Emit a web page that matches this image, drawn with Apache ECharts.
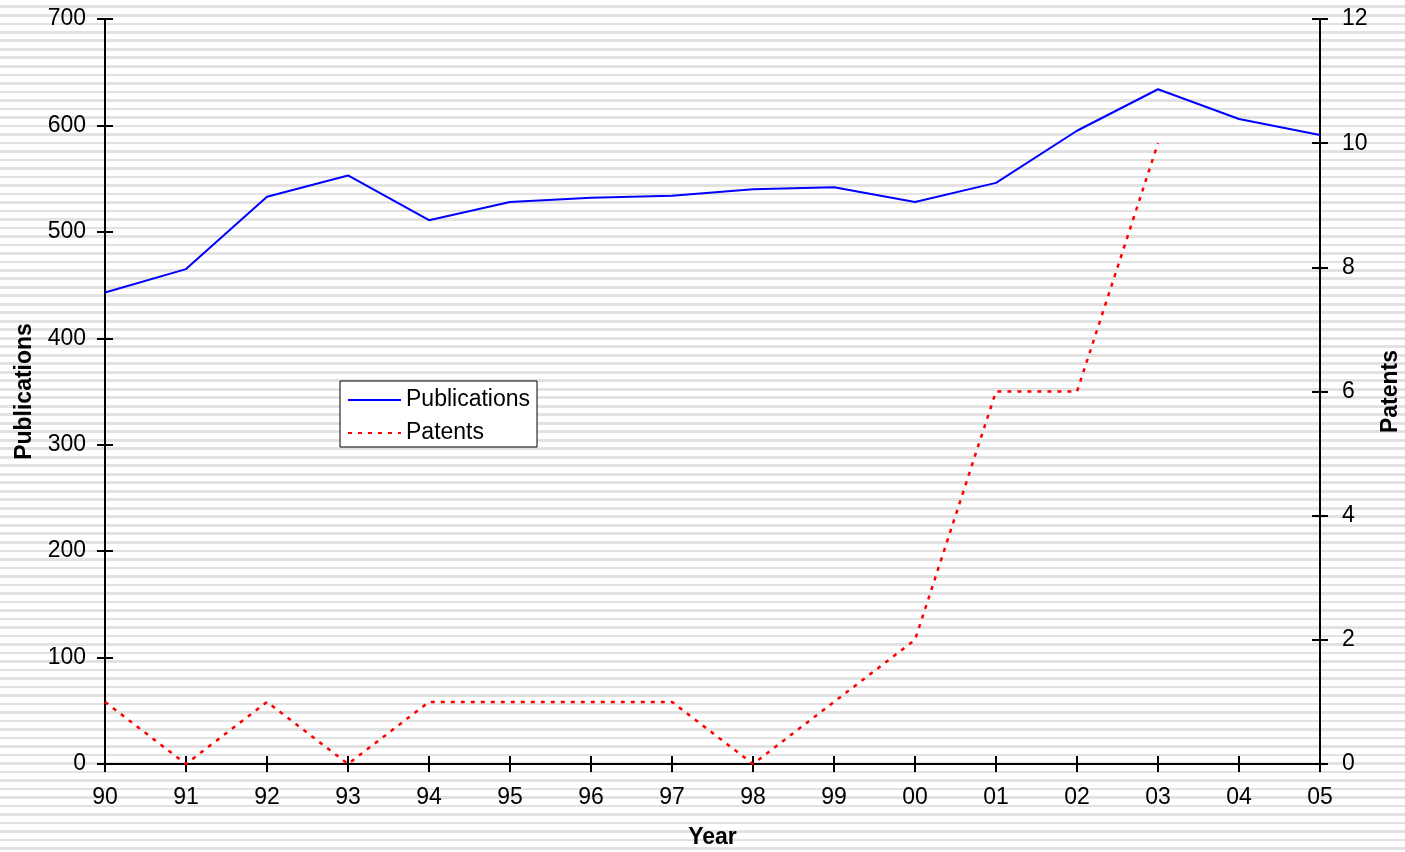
<!DOCTYPE html>
<html>
<head>
<meta charset="utf-8">
<script src="https://cdn.jsdelivr.net/npm/echarts@6/dist/echarts.min.js"></script>
<style>
html,body{margin:0;padding:0;}
#chart{width:1405px;height:852px;
background:repeating-linear-gradient(to bottom,#ffffff 0px,#ffffff 5.5px,#e2e2e2 5.5px,#e2e2e2 8.5px);}
</style>
</head>
<body>
<div id="chart"></div>
<script>
const years = ['90','91','92','93','94','95','96','97','98','99','00','01','02','03','04','05'];
const publications = [443,465,533,553,511,528,532,534,540,542,528,546,595,634,606,591];
const patents = [1,0,1,0,1,1,1,1,0,1,2,6,6,10,null,null];
const pubTicks = {min:0,max:700,interval:100};
const patTicks = {min:0,max:12,interval:2};

const font = 'Liberation Sans, Arial, sans-serif';
const FS = 23;
const axLine = {show:true,onZero:false,lineStyle:{color:'#000',width:2}};
const tick = (inside)=>({show:true,inside:inside,length:8,lineStyle:{color:'#000',width:2}});

const chart = echarts.init(document.getElementById('chart'));
chart.setOption({
  animation:false,
  grid:{left:105,right:85,top:19,bottom:88,containLabel:false,outerBoundsMode:'none'},
  legend:{
    orient:'vertical',left:340,top:381,
    backgroundColor:'#fff',borderColor:'#000',borderWidth:1,borderRadius:0,
    padding:[7,7,2,7],itemWidth:53,itemHeight:14,itemGap:9,
    itemStyle:{opacity:0},
    textStyle:{fontFamily:font,fontSize:FS,color:'#000',lineHeight:24},
    data:['Publications','Patents']
  },
  xAxis:[{
    type:'category',data:years,boundaryGap:false,position:'bottom',
    name:'Year',nameLocation:'middle',nameGap:62,
    nameTextStyle:{fontFamily:font,fontSize:FS,fontWeight:'bold',color:'#000'},
    axisLine:axLine,axisTick:tick(false),
    axisLabel:{fontFamily:font,fontSize:FS,color:'#000',margin:22},
    splitLine:{show:false}
  },{
    type:'category',data:years,boundaryGap:false,position:'bottom',
    axisLine:axLine,axisTick:tick(true),axisLabel:{show:false},splitLine:{show:false}
  }],
  yAxis:[{
    type:'value',position:'left',min:pubTicks.min,max:pubTicks.max,interval:pubTicks.interval,
    name:'Publications',nameLocation:'middle',nameGap:69,nameRotate:90,
    nameTextStyle:{fontFamily:font,fontSize:FS,fontWeight:'bold',color:'#000'},
    axisLine:axLine,axisTick:tick(false),
    axisLabel:{fontFamily:font,fontSize:FS,color:'#000',margin:19},
    splitLine:{show:false}
  },{
    type:'value',position:'right',min:patTicks.min,max:patTicks.max,interval:patTicks.interval,
    name:'Patents',nameLocation:'middle',nameGap:59,nameRotate:90,
    nameTextStyle:{fontFamily:font,fontSize:FS,fontWeight:'bold',color:'#000'},
    axisLine:axLine,axisTick:tick(false),
    axisLabel:{fontFamily:font,fontSize:FS,color:'#000',margin:22},
    splitLine:{show:false}
  },{
    type:'value',position:'left',min:pubTicks.min,max:pubTicks.max,interval:pubTicks.interval,
    axisLine:axLine,axisTick:tick(true),axisLabel:{show:false},splitLine:{show:false}
  },{
    type:'value',position:'right',min:patTicks.min,max:patTicks.max,interval:patTicks.interval,
    axisLine:axLine,axisTick:tick(true),axisLabel:{show:false},splitLine:{show:false}
  }],
  series:[{
    name:'Publications',type:'line',xAxisIndex:0,yAxisIndex:0,data:publications,
    symbol:'none',lineStyle:{color:'#0000ff',width:2},itemStyle:{color:'#0000ff'},z:3
  },{
    name:'Patents',type:'line',xAxisIndex:0,yAxisIndex:1,data:patents,
    symbol:'none',lineStyle:{color:'#ff0000',width:2.5,type:[4,6]},itemStyle:{color:'#ff0000'},z:2
  }]
});
</script>
</body>
</html>
